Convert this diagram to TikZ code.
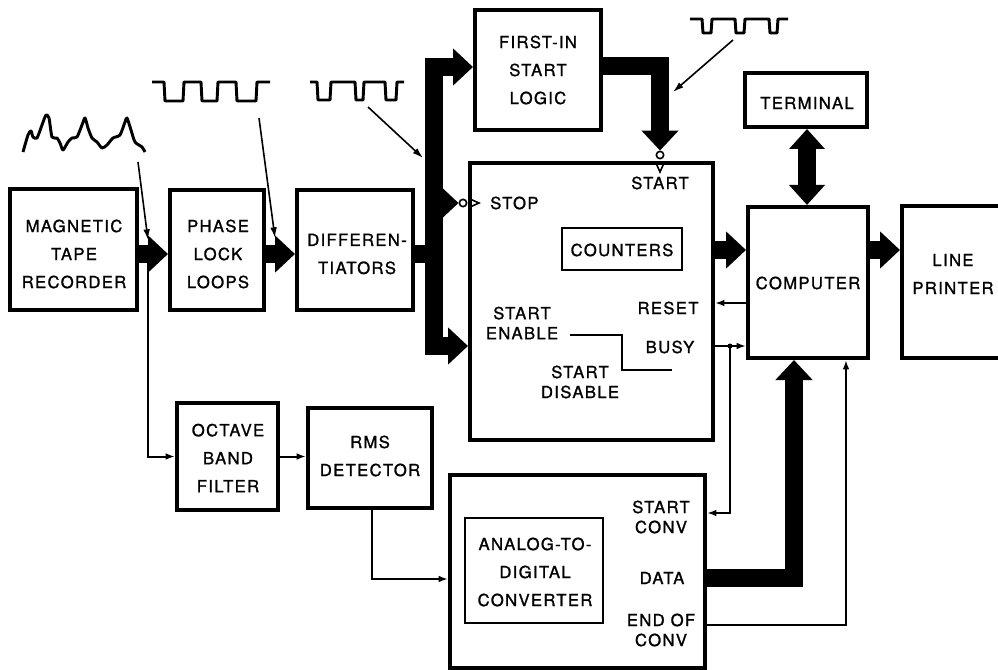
\documentclass[tikz,border=0pt]{standalone}
\usepackage{fontspec}
\setmainfont{TeX Gyre Heros}[LetterSpace=8,FakeBold=1.2]
\usetikzlibrary{arrows.meta,fit,calc}
\begin{document}
\begin{tikzpicture}[x=0.75pt,y=-0.75pt,
  box/.style={draw, line width=3pt, inner sep=0pt},
  ibox/.style={draw, line width=2.2pt, inner sep=0pt},
  lbl/.style={inner sep=0pt, align=center, font=\fontsize{12.5}{15}\selectfont},
  lbl2/.style={inner sep=0pt, align=center, font=\fontsize{12.5}{21}\selectfont},
  fatline/.style={line width=13pt},
  fatarrow/.style={line width=13pt, line join=miter, -{Triangle[length=15pt,width=27pt]}},
  fatdouble/.style={line width=13pt, {Triangle[length=15pt,width=26pt]}-{Triangle[length=15pt,width=26pt]}},
  thinarr/.style={line width=1.5pt, -{Latex[length=7pt,width=5pt]}},
  pointer/.style={line width=1.2pt, -{Latex[length=8pt,width=5pt]}},
  wave/.style={line width=2.2pt, line join=round},
  inv/.style={circle, draw, line width=1.2pt, minimum size=5.5pt, inner sep=0pt, fill=white},
  clk/.style={line width=1.2pt}
]
\useasboundingbox (0,0) rectangle (998,670);
\clip (0,0) rectangle (998,670);

% coordinates
\coordinate (rowY) at (0,254);
\coordinate (rowY2) at (0,250);
\coordinate (busT) at (434,67);
\coordinate (busB) at (434,346);
\coordinate (busM) at (434,254);
\coordinate (busS) at (434,203);
\coordinate (fiOut) at (0,66);
\coordinate (termX) at (807,0);
\coordinate (dataX) at (794,0);
\coordinate (resetY) at (0,303);
\coordinate (busyY) at (0,346);
\coordinate (jn) at (730,346);
\coordinate (sconvY) at (0,513);
\coordinate (eocY) at (0,625);
\coordinate (eocX) at (846,0);
\coordinate (tap) at (148,262);
\coordinate (rmsX) at (372,0);
\coordinate (adcInY) at (0,579);

% boxes
\node[box, fit={(10,189) (137,310)}] (mtr) {};
\node[box, fit={(170,190) (264,310)}] (pll) {};
\node[box, fit={(297,190) (413,310)}] (diff) {};
\node[box, fit={(475,10) (601,130)}] (fi) {};
\node[box, fit={(470,163) (713,440)}] (cnt) {};
\node[ibox, fit={(562,228) (682,270)}] (ctr) {};
\node[box, fit={(745,73) (867,127)}] (term) {};
\node[box, fit={(748,207) (868,358)}] (comp) {};
\node[box, fit={(902,206) (1030,358)}] (lp) {};
\node[box, fit={(177,403) (278,510)}] (oct) {};
\node[box, fit={(308,408) (432,508)}] (rms) {};
\node[box, fit={(450,475) (705,668)}] (adc) {};
\node[ibox, fit={(465,518) (603,623)}] (adcin) {};

% box texts
\node[lbl2] (mtrT) at (74,254) {MAGNETIC\\TAPE\\RECORDER};
\node[lbl2] (pllT) at (218,254) {PHASE\\LOCK\\LOOPS};
\node[lbl2] (diffT) at (357,254) {DIFFEREN-\\TIATORS};
\node[lbl2] (fiT) at (538,70) {FIRST-IN\\START\\LOGIC};
\node[lbl2] (ctrT) at (622,250) {COUNTERS};
\node[lbl2] (termT) at (807,103) {TERMINAL};
\node[lbl2] (compT) at (808,283) {COMPUTER};
\node[lbl2] (lpT) at (953,274) {LINE\\PRINTER};
\node[lbl2] (octT) at (228,458) {OCTAVE\\BAND\\FILTER};
\node[lbl2] (rmsT) at (370,456) {RMS\\DETECTOR};
\node[lbl2] (adcT) at (535,572) {ANALOG-TO-\\DIGITAL\\CONVERTER};

% labels inside boxes
\node[lbl] (startl) at (660,183) {START};
\node[lbl, anchor=west] (stopl) at (490,203) {STOP};
\node[lbl] (resetl) at (668,308) {RESET};
\node[lbl] (busyl) at (670,347) {BUSY};
\node[lbl] (sen) at (522,323) {START\\ENABLE};
\node[lbl] (sdis) at (580,382) {START\\DISABLE};
\node[lbl] (sconv) at (661,517) {START\\CONV};
\node[lbl] (datal) at (662,578) {DATA};
\node[lbl] (eoc) at (661,630) {END OF\\CONV};

% step line
\draw[line width=2.2pt] (570,335) -- (622,335) -- (622,370) -- (672,370);

% inversion circles and clock marks
\node[inv] (stopc) at (463,203) {};
\node[inv] (startc) at (660,155) {};
\draw[clk] (470,199) -- (479,203) -- (470,207);
\draw[clk] (656,163) -- (660,172) -- (664,163);

% fat connectors
\draw[fatarrow] (mtr.east |- rowY) -- (pll.west |- rowY);
\draw[fatarrow] (pll.east |- rowY) -- (diff.west |- rowY);
\draw[fatline] (diff.east |- rowY) -- (busM);
\draw[fatline, line cap=rect] (busT) -- (busB);
\draw[fatarrow] (busT) -- (fi.west |- busT);
\draw[fatarrow] (busB) -- (cnt.west |- busB);
\draw[fatarrow] (busS) -- (stopc.west);
\draw[fatarrow] (fi.east |- fiOut) -| (startc.north);
\draw[fatarrow] (cnt.east |- rowY2) -- (comp.west |- rowY2);
\draw[fatarrow] (comp.east |- rowY2) -- (lp.west |- rowY2);
\draw[fatdouble] (term.south -| termX) -- (comp.north -| termX);
\draw[fatarrow] (adc.east |- datal) -| (comp.south -| dataX);

% thin connectors
\draw[thinarr] (comp.west |- resetY) -- (cnt.east |- resetY);
\draw[thinarr] (cnt.east |- busyY) -- (comp.west |- busyY);
\fill (jn) circle (2.5);
\draw[thinarr] (jn) |- (adc.east |- sconvY);
\draw[thinarr] (adc.east |- eocY) -| (comp.south -| eocX);
\draw[thinarr] (tap) |- (oct.west);
\draw[thinarr] (oct.east) -- (rms.west |- oct.east);
\draw[thinarr] (rms.south -| rmsX) |- (adc.west |- adcInY);

% waveforms
\draw[wave] plot[smooth, tension=0.4] coordinates {(23,152) (28,135) (31,131) (33,137) (37,138) (42,125) (46,115) (49,118) (52,137) (57,138) (60,143) (63,150) (68,142) (72,138) (77,137) (82,125) (85,118) (88,128) (92,138) (97,142) (102,148) (107,145) (113,138) (120,135) (125,122) (127,118) (131,130) (135,142) (142,147) (145,152)};
\draw[wave] (152,82) -- (164,82) -- (165,101) -- (183,101) -- (184,82) -- (201,82) -- (202,101) -- (217,101) -- (218,82) -- (236,82) -- (237,101) -- (256,101) -- (257,82) -- (270,82);
\draw[wave] (310,82) -- (317,82) -- (318,100) -- (330,100) -- (331,82) -- (355,82) -- (356,100) -- (363,100) -- (364,82) -- (385,82) -- (386,100) -- (396,100) -- (397,82) -- (404,82);
\draw[wave] (690,19) -- (702,19) -- (703,33) -- (711,33) -- (712,19) -- (735,19) -- (736,33) -- (744,33) -- (745,19) -- (769,19) -- (770,33) -- (777,33) -- (778,19) -- (788,19);

% pointer arrows
\coordinate (p1a) at (138,162); \coordinate (p1b) at (148,240);
\coordinate (p2a) at (259,118); \coordinate (p2b) at (275,238);
\coordinate (p3a) at (368,107); \coordinate (p3b) at (423,158);
\coordinate (p4a) at (733,40);  \coordinate (p4b) at (673,92);
\draw[pointer] (p1a) -- (p1b);
\draw[pointer] (p2a) -- (p2b);
\draw[pointer] (p3a) -- (p3b);
\draw[pointer] (p4a) -- (p4b);
\end{tikzpicture}
\end{document}
